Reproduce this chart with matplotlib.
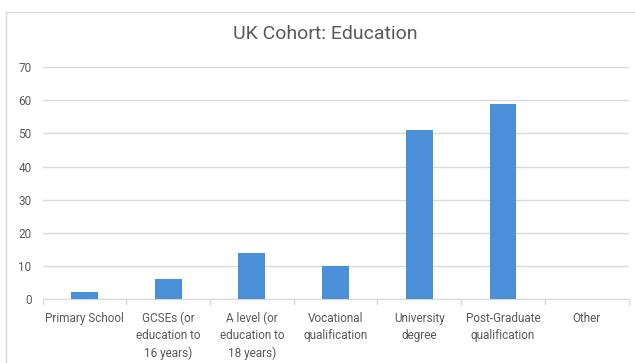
import matplotlib.pyplot as plt
from matplotlib.lines import Line2D

# Education levels reported by the UK cohort
categories = ["Primary School", "GCSEs (or\neducation to\n16 years)",
              "A level (or\neducation to\n18 years)", "Vocational\nqualification",
              "University\ndegree", "Post-Graduate\nqualification", "Other"]
counts = [2, 6, 14, 10, 51, 59, 0]
yticks = [0, 10, 20, 30, 40, 50, 60, 70]

plt.rcParams['font.family'] = ['Roboto', 'DejaVu Sans']
text_grey = '#595959'
grid_grey = '#d9d9d9'

fig = plt.figure(figsize=(6.35, 3.63), dpi=100)
ax = fig.add_axes([0.067, 0.176, 0.923, 0.639])

x = range(len(categories))
ax.bar(x, counts, width=0.32, color='#4a90d9', zorder=3)

ax.set_xlim(-0.5, len(categories) - 0.5)
ax.set_ylim(0, 70)
ax.set_yticks(yticks)
ax.set_yticklabels([str(v) for v in yticks], color=text_grey, fontsize=8.5)
ax.tick_params(axis='y', length=0, pad=8)
ax.grid(axis='y', color=grid_grey, linewidth=1, zorder=0)

# category labels centred, tick marks between categories
ax.set_xticks([i - 0.5 for i in range(len(categories) + 1)])
ax.set_xticklabels([])
ax.tick_params(axis='x', length=4, color=grid_grey, width=1)
ax.set_xticks(list(x), minor=True)
ax.set_xticklabels(categories, minor=True, color=text_grey, fontsize=8.5,
                   linespacing=1.4, va='top')
ax.tick_params(axis='x', which='minor', length=0, pad=9)

for side in ['top', 'right', 'left']:
    ax.spines[side].set_visible(False)
ax.spines['bottom'].set_color(grid_grey)

fig.text(0.512, 0.905, "UK Cohort: Education", ha='center', va='center',
         fontsize=14, color=text_grey)

# chart frame
fig.add_artist(Line2D([6 / 635, 6 / 635], [0, 1 - 12 / 363], color=grid_grey,
                      lw=1, transform=fig.transFigure))
fig.add_artist(Line2D([6 / 635, 1], [1 - 12 / 363, 1 - 12 / 363], color=grid_grey,
                      lw=1, transform=fig.transFigure))

fig.savefig('out.png', dpi=100, facecolor='white')
